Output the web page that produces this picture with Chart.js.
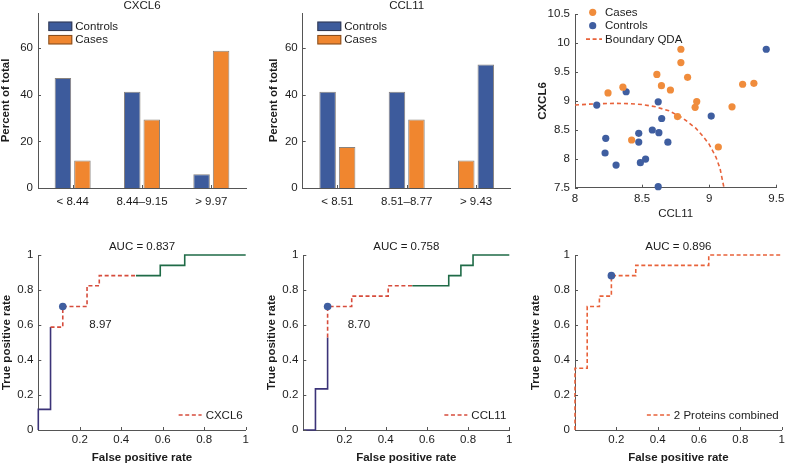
<!DOCTYPE html>
<html>
<head>
<meta charset="utf-8">
<script src="https://cdn.jsdelivr.net/npm/chart.js@4.4.1/dist/chart.umd.min.js"></script>
<style>
  body { margin: 0; background: #fff; }
  #fig { position: relative; width: 789px; height: 464px; overflow: hidden; background: #fff; }
  #fig canvas { position: absolute; }
</style>
</head>
<body>
<div id="fig">
  <canvas id="barCxcl6" width="260" height="230" style="left:0;top:0"></canvas>
  <canvas id="barCcl11" width="260" height="230" style="left:260px;top:0"></canvas>
  <canvas id="scatter" width="269" height="230" style="left:520px;top:0"></canvas>
  <canvas id="rocCxcl6" width="260" height="234" style="left:0;top:230px"></canvas>
  <canvas id="rocCcl11" width="260" height="234" style="left:260px;top:230px"></canvas>
  <canvas id="rocBoth" width="269" height="234" style="left:520px;top:230px"></canvas>
</div>
<script>
// bar panels: percent of total per bin
var cxcl6Bins = ['< 8.44', '8.44\u20139.15', '> 9.97'];
var cxcl6Controls = [47.1, 41.2, 5.9];
var cxcl6Cases = [11.8, 29.4, 58.8];
var cxcl6LeftBar = ['Controls', 'Controls', 'Controls'];

var ccl11Bins = ['< 8.51', '8.51\u20138.77', '> 9.43'];
var ccl11Controls = [41.2, 41.2, 52.9];
var ccl11Cases = [17.6, 29.4, 11.8];
var ccl11LeftBar = ['Controls', 'Controls', 'Cases'];

var barTicks = [0, 20, 40, 60];

// scatter: CCL11 (x) vs CXCL6 (y)
var casesCcl11 = [8.246, 8.357, 8.422, 8.610, 8.644, 8.711, 8.764, 8.789, 8.789, 8.839, 8.895, 8.907, 9.068, 9.170, 9.249, 9.333];
var casesCxcl6 = [9.14, 9.24, 8.325, 9.46, 9.266, 9.19, 8.73, 9.895, 9.664, 9.41, 8.89, 8.99, 8.204, 8.90, 9.29, 9.306];
var controlsCcl11 = [8.162, 8.229, 8.224, 8.306, 8.381, 8.475, 8.475, 8.487, 8.526, 8.576, 8.620, 8.625, 8.646, 8.692, 8.620, 9.015, 9.425];
var controlsCxcl6 = [8.93, 8.354, 8.10, 7.892, 9.16, 8.44, 8.29, 7.933, 7.996, 8.498, 8.985, 8.452, 8.697, 8.287, 7.517, 8.74, 9.895];
var qdaCcl11 = [8.0, 8.1, 8.2, 8.3, 8.4, 8.5, 8.6, 8.7, 8.8, 8.9, 8.95, 9.0, 9.05, 9.08, 9.11];
var qdaCxcl6 = [8.93, 8.945, 8.955, 8.96, 8.955, 8.94, 8.9, 8.83, 8.71, 8.53, 8.4, 8.25, 8.03, 7.84, 7.5];
var scatterXTicks = [8, 8.5, 9, 9.5];
var scatterYTicks = [7.5, 8, 8.5, 9, 9.5, 10, 10.5];

// ROC curves (corner points), split = [end of solid navy part, end of dashed part]
var cxcl6Fpr = [0, 0, 0.059, 0.059, 0.118, 0.118, 0.235, 0.235, 0.294, 0.294, 0.471, 0.588, 0.588, 0.706, 0.706, 1];
var cxcl6Tpr = [0, 0.118, 0.118, 0.588, 0.588, 0.706, 0.706, 0.824, 0.824, 0.882, 0.882, 0.882, 0.941, 0.941, 1, 1];
var cxcl6Split = [3, 10];
var cxcl6Cut = [0.118, 0.706];

var ccl11Fpr = [0, 0.059, 0.059, 0.118, 0.118, 0.118, 0.235, 0.235, 0.412, 0.412, 0.529, 0.706, 0.706, 0.765, 0.765, 0.824, 0.824, 1];
var ccl11Tpr = [0, 0, 0.235, 0.235, 0.529, 0.706, 0.706, 0.765, 0.765, 0.824, 0.824, 0.824, 0.882, 0.882, 0.941, 0.941, 1, 1];
var ccl11Split = [4, 10];
var ccl11Cut = [0.118, 0.706];

var bothFpr = [0, 0, 0.059, 0.059, 0.118, 0.118, 0.176, 0.176, 0.294, 0.294, 0.647, 0.647, 1];
var bothTpr = [0, 0.353, 0.353, 0.706, 0.706, 0.765, 0.765, 0.882, 0.882, 0.941, 0.941, 1, 1];
var bothSplit = [0, 99];
var bothCut = [0.176, 0.882];

var rocXTicks = [0.2, 0.4, 0.6, 0.8, 1];
var rocYTicks = [0, 0.2, 0.4, 0.6, 0.8, 1];

var fontFamily = '"Liberation Sans", Arial, Helvetica, sans-serif';
var textColor = '#1c1c1c';
var axisColor = '#555';
var blue = '#3d5b9c';
var orange = '#f0862f';
var dotBlue = '#3f5ea0';
var dotOrange = '#f08c3c';
var navy = '#3b3378';
var green = '#1f6b47';
var red = '#d64c3c';
var redOrange = '#e8623a';

Chart.defaults.font.family = fontFamily;
Chart.defaults.font.size = 11.5;
Chart.defaults.color = textColor;

// small inward tick marks like the original axes
var innerTicks = {
  id: 'innerTicks',
  afterDraw: function(chart) {
    var ctx = chart.ctx, a = chart.chartArea;
    var xs = chart.scales.x, ys = chart.scales.y;
    ctx.save();
    ctx.strokeStyle = axisColor;
    ctx.lineWidth = 1;
    ctx.beginPath();
    for (var i = 0; i < xs.ticks.length; i++) {
      var px = Math.round(xs.getPixelForTick(i)) + 0.5;
      ctx.moveTo(px, a.bottom);
      ctx.lineTo(px, a.bottom - 3);
    }
    for (var j = 0; j < ys.ticks.length; j++) {
      var py = Math.round(ys.getPixelForTick(j)) + 0.5;
      ctx.moveTo(a.left, py);
      ctx.lineTo(a.left + 3, py);
    }
    ctx.stroke();
    ctx.restore();
  }
};

// titles, notes and the in-plot legends
var panelText = {
  id: 'panelText',
  afterDraw: function(chart, args, opts) {
    var ctx = chart.ctx, a = chart.chartArea;
    var xs = chart.scales.x, ys = chart.scales.y;
    ctx.save();
    ctx.font = '11.5px ' + fontFamily;
    ctx.fillStyle = textColor;
    ctx.textBaseline = 'middle';

    if (opts.title) {
      ctx.textAlign = 'center';
      ctx.fillText(opts.title, (a.left + a.right) / 2, a.top + opts.titleDy);
    }
    if (opts.note) {
      ctx.textAlign = 'center';
      ctx.fillText(opts.note.text, xs.getPixelForValue(opts.note.x), ys.getPixelForValue(opts.note.y));
    }

    var items = opts.legend || [];
    for (var i = 0; i < items.length; i++) {
      var it = items[i];
      var lx = a.left + opts.legendX;
      var cy = a.top + opts.legendY + i * 13.4;
      var tx = a.left + opts.legendTextX;
      if (opts.legendRight) {
        ctx.textAlign = 'right';
        tx = a.right - 3;
        cy = a.bottom - 15;
        var w = ctx.measureText(it.label).width;
        lx = tx - w - 27;
      } else {
        ctx.textAlign = 'left';
      }
      if (it.kind == 'box') {
        ctx.fillStyle = it.color;
        ctx.fillRect(lx, cy - 4.75, 24, 9.5);
        ctx.strokeStyle = 'rgba(40,30,20,0.55)';
        ctx.lineWidth = 1;
        ctx.strokeRect(lx + 0.5, cy - 4.25, 23, 8.5);
      } else if (it.kind == 'dot') {
        ctx.fillStyle = it.color;
        ctx.beginPath();
        ctx.arc(lx + 6.7, cy, 3.6, 0, Math.PI * 2);
        ctx.fill();
      } else if (it.kind == 'dash') {
        ctx.strokeStyle = it.color;
        ctx.lineWidth = 1.6;
        ctx.setLineDash([4, 2.6]);
        ctx.beginPath();
        ctx.moveTo(lx, cy);
        ctx.lineTo(lx + (opts.legendRight ? 23 : 16), cy);
        ctx.stroke();
        ctx.setLineDash([]);
      }
      ctx.fillStyle = textColor;
      ctx.fillText(it.label, tx, cy + 0.5);
    }
    ctx.restore();
  }
};

function fixedTicks(list) {
  return function(scale) {
    scale.ticks = list.map(function(v) { return { value: v }; });
  };
}

function axisTitle(text, bold, pad) {
  return {
    display: true,
    text: text,
    color: textColor,
    font: { size: 11.5, weight: bold ? 'bold' : 'normal', lineHeight: 1 },
    padding: pad
  };
}

function barChart(id, bins, controls, cases, leftBar, title, yw, yTitlePad, padRight, legendX) {
  var left = [], right = [], leftColor = [], rightColor = [];
  for (var i = 0; i < bins.length; i++) {
    if (leftBar[i] == 'Controls') {
      left.push(controls[i]); right.push(cases[i]);
      leftColor.push(blue); rightColor.push(orange);
    } else {
      left.push(cases[i]); right.push(controls[i]);
      leftColor.push(orange); rightColor.push(blue);
    }
  }
  var edge = 'rgba(40,30,20,0.55)';
  new Chart(document.getElementById(id), {
    type: 'bar',
    data: {
      labels: bins,
      datasets: [
        { data: left, backgroundColor: leftColor, borderColor: edge, borderWidth: 1 },
        { data: right, backgroundColor: rightColor, borderColor: edge, borderWidth: 1 }
      ]
    },
    options: {
      responsive: false,
      animation: false,
      categoryPercentage: 0.563,
      barPercentage: 0.846,
      layout: { padding: { left: 0, top: 13, right: padRight, bottom: 0 } },
      scales: {
        x: {
          grid: { display: false, drawTicks: false },
          border: { color: axisColor },
          ticks: { padding: 7, maxRotation: 0, autoSkip: false, color: textColor },
          afterFit: function(s) { s.height = 42; }
        },
        y: {
          min: 0, max: 75,
          afterBuildTicks: fixedTicks(barTicks),
          grid: { display: false, drawTicks: false },
          border: { color: axisColor },
          ticks: { padding: 5, color: textColor },
          afterFit: function(s) { s.width = yw; },
          title: axisTitle('Percent of total', true, { top: yTitlePad, bottom: 0 })
        }
      },
      plugins: {
        legend: { display: false },
        tooltip: { enabled: false },
        panelText: {
          title: title, titleDy: -7.5,
          legendX: legendX, legendY: 13.3, legendTextX: legendX + 27,
          legend: [
            { kind: 'box', color: blue, label: 'Controls' },
            { kind: 'box', color: orange, label: 'Cases' }
          ]
        }
      }
    },
    plugins: [innerTicks, panelText]
  });
}

function points(xs, ys) {
  return xs.map(function(v, i) { return { x: v, y: ys[i] }; });
}

function scatterChart() {
  new Chart(document.getElementById('scatter'), {
    type: 'scatter',
    data: {
      datasets: [
        { data: points(casesCcl11, casesCxcl6), backgroundColor: dotOrange, pointRadius: 3.6, pointBorderWidth: 0, clip: false },
        { data: points(controlsCcl11, controlsCxcl6), backgroundColor: dotBlue, pointRadius: 3.6, pointBorderWidth: 0, clip: false },
        { data: points(qdaCcl11, qdaCxcl6), showLine: true, borderColor: redOrange, borderWidth: 1.6,
          borderDash: [4, 3], pointRadius: 0, fill: false, tension: 0 }
      ]
    },
    options: {
      responsive: false,
      animation: false,
      layout: { padding: { left: 0, top: 14.3, right: 8, bottom: 0 } },
      scales: {
        x: {
          type: 'linear', min: 8, max: 9.5,
          afterBuildTicks: fixedTicks(scatterXTicks),
          grid: { display: false, drawTicks: false },
          border: { color: axisColor },
          ticks: { padding: 4.7, maxRotation: 0, color: textColor, callback: function(v) { return String(v); } },
          afterFit: function(s) { s.height = 42.3; },
          title: axisTitle('CCL11', false, { top: 0, bottom: 10.2 })
        },
        y: {
          min: 7.5, max: 10.5,
          afterBuildTicks: fixedTicks(scatterYTicks),
          grid: { display: false, drawTicks: false },
          border: { color: axisColor },
          ticks: { padding: 5, color: textColor, callback: function(v) { return String(v); } },
          afterFit: function(s) { s.width = 55; },
          title: axisTitle('CXCL6', true, { top: 17, bottom: 0 })
        }
      },
      plugins: {
        legend: { display: false },
        tooltip: { enabled: false },
        panelText: {
          legendX: 11, legendY: -2, legendTextX: 30,
          legend: [
            { kind: 'dot', color: dotOrange, label: 'Cases' },
            { kind: 'dot', color: dotBlue, label: 'Controls' },
            { kind: 'dash', color: redOrange, label: 'Boundary QDA' }
          ]
        }
      }
    },
    plugins: [innerTicks, panelText]
  });
}

function rocChart(id, fpr, tpr, split, cut, dashColor, auc, label, note, yw, yTitlePad, padRight) {
  new Chart(document.getElementById(id), {
    type: 'line',
    data: {
      datasets: [
        { data: [{ x: cut[0], y: cut[1] }], showLine: false, pointRadius: 3.8,
          pointBackgroundColor: dotBlue, pointBorderWidth: 0, clip: false },
        { data: points(fpr, tpr), borderColor: dashColor, borderWidth: 1.6, pointRadius: 0,
          fill: false, tension: 0, clip: false,
          segment: {
            borderColor: function(c) {
              if (c.p0DataIndex < split[0]) return navy;
              if (c.p0DataIndex < split[1]) return dashColor;
              return green;
            },
            borderDash: function(c) {
              if (c.p0DataIndex >= split[0] && c.p0DataIndex < split[1]) return [4, 2.6];
              return [];
            }
          }
        }
      ]
    },
    options: {
      responsive: false,
      animation: false,
      layout: { padding: { left: 0, top: 25, right: padRight, bottom: 0 } },
      scales: {
        x: {
          type: 'linear', min: 0, max: 1,
          afterBuildTicks: fixedTicks(rocXTicks),
          grid: { display: false, drawTicks: false },
          border: { color: axisColor },
          ticks: { padding: 3.4, maxRotation: 0, color: textColor, callback: function(v) { return String(v); } },
          afterFit: function(s) { s.height = 34; },
          title: axisTitle('False positive rate', true, { top: 0, bottom: 0 })
        },
        y: {
          type: 'linear', min: 0, max: 1,
          afterBuildTicks: fixedTicks(rocYTicks),
          grid: { display: false, drawTicks: false },
          border: { color: axisColor },
          ticks: { padding: 5, color: textColor, callback: function(v) { return String(v); } },
          afterFit: function(s) { s.width = yw; },
          title: axisTitle('True positive rate', true, { top: yTitlePad, bottom: 0 })
        }
      },
      plugins: {
        legend: { display: false },
        tooltip: { enabled: false },
        panelText: {
          title: auc, titleDy: -8.5,
          note: note,
          legendRight: true,
          legend: [{ kind: 'dash', color: dashColor, label: label }]
        }
      }
    },
    plugins: [innerTicks, panelText]
  });
}

barChart('barCxcl6', cxcl6Bins, cxcl6Controls, cxcl6Cases, cxcl6LeftBar, 'CXCL6', 38, 0, 14, 10.3);
barChart('barCcl11', ccl11Bins, ccl11Controls, ccl11Cases, ccl11LeftBar, 'CCL11', 42.7, 8.2, 9.3, 14.6);
scatterChart();
rocChart('rocCxcl6', cxcl6Fpr, cxcl6Tpr, cxcl6Split, cxcl6Cut, red, 'AUC = 0.837', 'CXCL6',
  { text: '8.97', x: 0.30, y: 0.6 }, 38.3, 1, 14.3);
rocChart('rocCcl11', ccl11Fpr, ccl11Tpr, ccl11Split, ccl11Cut, red, 'AUC = 0.758', 'CCL11',
  { text: '8.70', x: 0.27, y: 0.6 }, 43.3, 6.2, 10.7);
rocChart('rocBoth', bothFpr, bothTpr, bothSplit, bothCut, redOrange, 'AUC = 0.896', '2 Proteins combined',
  null, 55, 10.2, 7.3);
</script>
</body>
</html>
